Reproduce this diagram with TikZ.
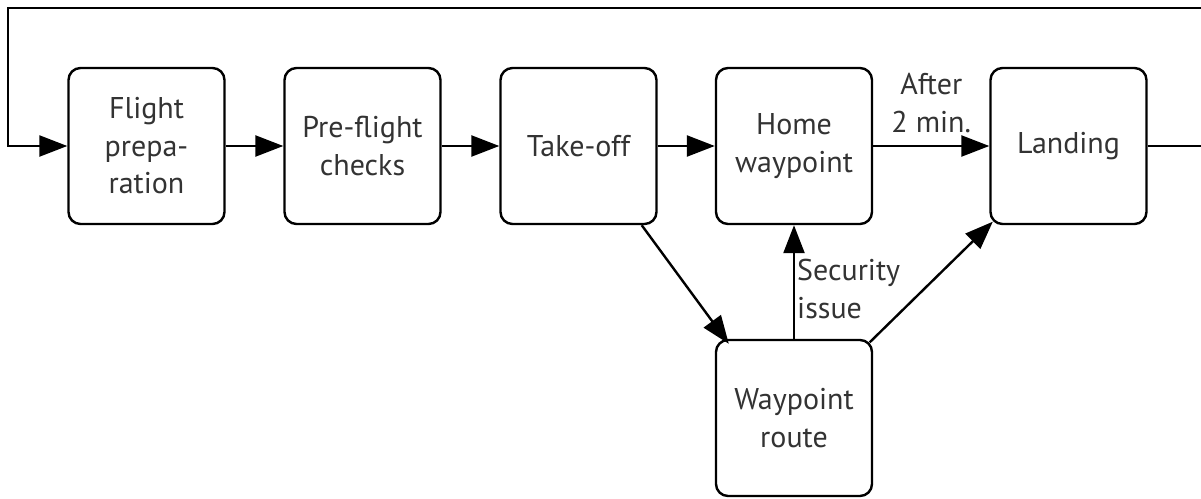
\documentclass[tikz,border=0pt]{standalone}
\usepackage{fontspec}
\setmainfont{PT Sans}
\usetikzlibrary{arrows.meta}

\begin{document}
\begin{tikzpicture}[x=1pt,y=-1pt,
    stage/.style={draw, line width=2.4pt, rounded corners=12pt, minimum width=156pt, minimum height=156pt, align=center, text=black!80, font=\fontsize{30}{37.5}\selectfont},
    flow/.style={line width=2.4pt, -{Triangle[length=28pt,width=21pt]}},
    lbl/.style={text=black!80, font=\fontsize{30}{37.5}\selectfont, inner sep=2pt}]
    \useasboundingbox (0,0) rectangle (1201,498);

    % Stages
    \node[stage] (prep) at (146.5,146) {Flight\\prepa-\\ration};
    \node[stage] (checks) at (362.5,146) {Pre-flight\\checks};
    \node[stage] (takeoff) at (578.5,146) {Take-off};
    \node[stage] (home) at (794,146) {Home\\waypoint};
    \node[stage] (landing) at (1068.5,146) {Landing};
    \node[stage] (route) at (794,418) {Waypoint\\route};

    % Connectors
    \draw[flow] (prep) -- (checks);
    \draw[flow] (checks) -- (takeoff);
    \draw[flow] (takeoff) -- (home);
    \draw[flow] (home) -- node[lbl, above, align=center, yshift=10pt] (after) {After\\2 min.} (landing);
    \draw[flow] ([xshift=-16pt]takeoff.south east) -- ([xshift=14pt,yshift=-5pt]route.north west);
    \draw[flow] (route) -- node[lbl, right, align=left, pos=0.44] (issue) {Security\\issue} (home);
    \draw[flow] ([xshift=-3.5pt,yshift=-3.5pt]route.north east) -- ([xshift=3.5pt,yshift=3.5pt]landing.south west);

    % Return loop
    \draw[flow] (landing.east) -- (1230,146) |- (8,8) |- (prep.west);
\end{tikzpicture}
\end{document}
